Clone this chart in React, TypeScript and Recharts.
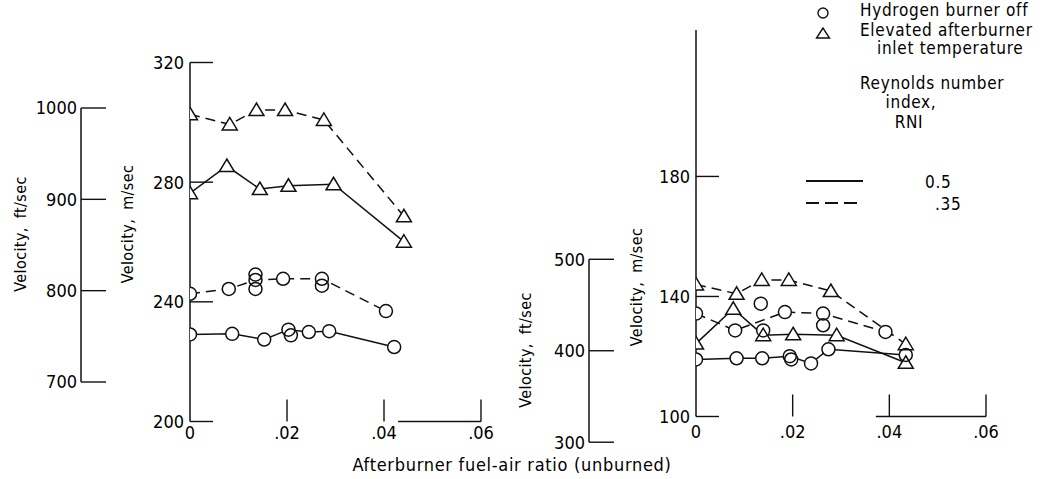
import React from 'react';
import { ComposedChart, Line, Scatter, XAxis, YAxis, ReferenceLine } from 'recharts';

const NUM_FONT = '"Liberation Sans Narrow", "DejaVu Sans Condensed", sans-serif';
const TXT_FONT = '"DejaVu Sans Condensed", "DejaVu Sans", sans-serif';

type Pt = { x: number; y: number };

// ---------- Left panel (velocity, m/sec) ----------
const leftTriDashed: Pt[] = [
  { x: 0, y: 302.7 }, { x: 0.0082, y: 299.3 }, { x: 0.0137, y: 304.1 },
  { x: 0.0196, y: 304.1 }, { x: 0.0276, y: 300.8 }, { x: 0.0441, y: 268.6 },
];
const leftTriSolid: Pt[] = [
  { x: 0, y: 276.3 }, { x: 0.0076, y: 285.4 }, { x: 0.0144, y: 277.7 },
  { x: 0.0203, y: 278.8 }, { x: 0.0296, y: 279.3 }, { x: 0.0441, y: 260.1 },
];
const leftCircDashed: Pt[] = [
  { x: 0, y: 242.7 }, { x: 0.008, y: 244.3 }, { x: 0.0135, y: 247.3 },
  { x: 0.0192, y: 247.7 }, { x: 0.0272, y: 247.7 }, { x: 0.0404, y: 236.9 },
];
const leftCircDashedExtra: Pt[] = [
  { x: 0.0135, y: 249.1 }, { x: 0.0135, y: 244.3 }, { x: 0.0272, y: 245.4 },
];
const leftCircSolid: Pt[] = [
  { x: 0, y: 229.1 }, { x: 0.0087, y: 229.3 }, { x: 0.0153, y: 227.4 },
  { x: 0.0203, y: 230.7 }, { x: 0.0245, y: 229.9 }, { x: 0.0287, y: 230.2 },
  { x: 0.0421, y: 224.9 },
];
const leftCircSolidExtra: Pt[] = [{ x: 0.0208, y: 228.8 }];

// ---------- Right panel (velocity, m/sec) ----------
const rightTriDashed: Pt[] = [
  { x: 0, y: 144.0 }, { x: 0.0084, y: 140.9 }, { x: 0.0136, y: 145.5 },
  { x: 0.0192, y: 145.5 }, { x: 0.0279, y: 141.8 }, { x: 0.0434, y: 124.1 },
];
const rightTriSolid: Pt[] = [
  { x: 0, y: 124.3 }, { x: 0.0077, y: 135.9 }, { x: 0.0139, y: 127.1 },
  { x: 0.0201, y: 127.4 }, { x: 0.0291, y: 127.1 }, { x: 0.0434, y: 117.9 },
];
const rightCircDashed: Pt[] = [
  { x: 0, y: 134.3 }, { x: 0.0081, y: 128.7 }, { x: 0.0184, y: 134.8 },
  { x: 0.0263, y: 134.3 }, { x: 0.0392, y: 128.2 },
];
const rightCircDashedExtra: Pt[] = [
  { x: 0.0134, y: 137.6 }, { x: 0.0139, y: 128.7 }, { x: 0.0263, y: 130.4 },
];
const rightCircSolid: Pt[] = [
  { x: 0, y: 119.0 }, { x: 0.0084, y: 119.4 }, { x: 0.0137, y: 119.4 },
  { x: 0.0194, y: 120.1 }, { x: 0.0238, y: 117.7 }, { x: 0.0274, y: 122.4 },
  { x: 0.0434, y: 120.5 },
];
const rightCircSolidExtra: Pt[] = [{ x: 0.0197, y: 119.0 }];

// ---------- Axes ----------
const xTicks = [0, 0.02, 0.04, 0.06];
const xTickLabels = ['0', '.02', '.04', '.06'];
const xDomain = [0, 0.06];
const leftMsTicks = [200, 240, 280, 320];
const leftMsDomain = [200, 320];
const leftFtTicks = [700, 800, 900, 1000];
const leftFtDomain = [700, 1000];
const rightMsTicks = [100, 140, 180];
const rightMsDomain = [100, 228.8];
const rightFtTicks = [300, 400, 500];
const rightFtDomain = [300, 500];
const leftAxisSegment = [0.0429, 0.06];
const rightAxisSegment = [0.0372, 0.06];

const STROKE = '#111';

const makeCircle = (outline: boolean) => (p: any) => {
  if (p.cx == null || p.cy == null) return <g key={`c${p.index}`} />;
  return (
    <circle key={`c${outline ? 'o' : 'f'}${p.index}`} cx={p.cx} cy={p.cy} r={6.5}
      fill={outline ? 'none' : '#fff'} stroke={outline ? STROKE : 'none'} strokeWidth={1.5} />
  );
};
const makeTriangle = (outline: boolean) => (p: any) => {
  if (p.cx == null || p.cy == null) return <g key={`t${p.index}`} />;
  const { cx, cy } = p;
  return (
    <polygon key={`t${outline ? 'o' : 'f'}${p.index}`}
      points={`${cx},${cy - 7} ${cx - 7.5},${cy + 5.5} ${cx + 7.5},${cy + 5.5}`}
      fill={outline ? 'none' : '#fff'} stroke={outline ? STROKE : 'none'} strokeWidth={1.5} />
  );
};
const circleFill = makeCircle(false);
const circleLine = makeCircle(true);
const triFill = makeTriangle(false);
const triLine = makeTriangle(true);

const makeYTick = (len: number, gap: number) => (p: any) => {
  const { x, y, payload } = p;
  return (
    <g key={`yt${payload.value}`}>
      <line x1={x} x2={x + len} y1={y} y2={y} stroke={STROKE} strokeWidth={1.4} />
      <text x={x - gap} y={y} dy="0.36em" textAnchor="end" fontSize={18}
        fontFamily={NUM_FONT} fill="#000">{payload.value}</text>
    </g>
  );
};

const makeXTick = (len: number, off: number) => (p: any) => {
  const { x, y, payload } = p;
  const idx = xTicks.indexOf(payload.value);
  return (
    <g key={`xt${payload.value}`}>
      {payload.value !== 0 && (
        <line x1={x} x2={x} y1={y} y2={y - len} stroke={STROKE} strokeWidth={1.4} />
      )}
      <text x={x} y={y + off} textAnchor="middle" fontSize={18}
        fontFamily={NUM_FONT} fill="#000">{xTickLabels[idx]}</text>
    </g>
  );
};

const DASH = '10 6';

function Panel(props: {
  left: number; width: number; margin: any; yDomain: number[]; yTicks: number[];
  tri: [Pt[], Pt[]]; circ: [Pt[], Pt[]]; circExtra: [Pt[], Pt[]]; seg: number[]; xOff: number;
}) {
  const { left, width, margin, yDomain, yTicks, tri, circ, circExtra, seg, xOff } = props;
  const circAll = [...circExtra[0], ...circ[0], ...circExtra[1], ...circ[1]];
  const triAll = [...tri[0], ...tri[1]];
  return (
    <div style={{ position: 'absolute', left, top: 0 }}>
      <ComposedChart width={width} height={479} margin={margin}>
        <XAxis type="number" dataKey="x" domain={xDomain} ticks={xTicks} height={30}
          axisLine={false} tickLine={false} tickSize={0} tickMargin={0}
          tick={makeXTick(22, xOff)} interval={0} allowDataOverflow />
        <YAxis type="number" dataKey="y" domain={yDomain} ticks={yTicks} width={40}
          axisLine={{ stroke: STROKE, strokeWidth: 1.5 }} tickLine={false} tickSize={0}
          tickMargin={0} tick={makeYTick(23, 6)} interval={0} allowDataOverflow />
        <ReferenceLine segment={[{ x: seg[0], y: yDomain[0] }, { x: seg[1], y: yDomain[0] }]}
          stroke={STROKE} strokeWidth={1.4} ifOverflow="visible" />
        <Line data={tri[0]} dataKey="y" stroke={STROKE} strokeWidth={1.5} dot={false}
          strokeDasharray={DASH} isAnimationActive={false} type="linear" />
        <Line data={tri[1]} dataKey="y" stroke={STROKE} strokeWidth={1.5} dot={false}
          isAnimationActive={false} type="linear" />
        <Line data={circ[0]} dataKey="y" stroke={STROKE} strokeWidth={1.5} dot={false}
          strokeDasharray={DASH} isAnimationActive={false} type="linear" />
        <Line data={circ[1]} dataKey="y" stroke={STROKE} strokeWidth={1.5} dot={false}
          isAnimationActive={false} type="linear" />
        <Scatter data={circAll} shape={circleFill} isAnimationActive={false} />
        <Scatter data={triAll} shape={triFill} isAnimationActive={false} />
        <Scatter data={circAll} shape={circleLine} isAnimationActive={false} />
        <Scatter data={triAll} shape={triLine} isAnimationActive={false} />
      </ComposedChart>
    </div>
  );
}

function FtAxis(props: { left: number; width: number; axisWidth: number; top: number; bottom: number; domain: number[]; ticks: number[] }) {
  const { left, width, axisWidth, top, bottom, domain, ticks } = props;
  return (
    <div style={{ position: 'absolute', left, top: 0 }}>
      <ComposedChart width={width} height={479} data={[]} margin={{ top, bottom, left: 0, right: 0 }}>
        <XAxis hide type="number" domain={[0, 1]} />
        <YAxis type="number" domain={domain} ticks={ticks} width={axisWidth}
          axisLine={{ stroke: STROKE, strokeWidth: 1.5 }} tickLine={false} tickSize={0}
          tickMargin={0} tick={makeYTick(25, 4)} interval={0} allowDataOverflow />
      </ComposedChart>
    </div>
  );
}

export default function App() {
  return (
    <div style={{ position: 'absolute', left: 0, top: 0, width: 1044, height: 479, background: '#fff', overflow: 'hidden' }}>
      <FtAxis left={0} width={120} axisWidth={81} top={108} bottom={97} domain={leftFtDomain} ticks={leftFtTicks} />
      <FtAxis left={500} width={120} axisWidth={89} top={259.3} bottom={36.8} domain={rightFtDomain} ticks={rightFtTicks} />
      <Panel left={0} width={520} margin={{ top: 62.5, right: 39, bottom: 27.5, left: 150 }}
        yDomain={leftMsDomain} yTicks={leftMsTicks}
        tri={[leftTriDashed, leftTriSolid]} circ={[leftCircDashed, leftCircSolid]}
        circExtra={[leftCircDashedExtra, leftCircSolidExtra]} seg={leftAxisSegment} xOff={17} />
      <Panel left={560} width={484} margin={{ top: 30, right: 58, bottom: 32.5, left: 96 }}
        yDomain={rightMsDomain} yTicks={rightMsTicks}
        tri={[rightTriDashed, rightTriSolid]} circ={[rightCircDashed, rightCircSolid]}
        circExtra={[rightCircDashedExtra, rightCircSolidExtra]} seg={rightAxisSegment} xOff={21} />
      <svg width={1044} height={479} style={{ position: 'absolute', left: 0, top: 0, pointerEvents: 'none' }}>
        <g fontFamily={TXT_FONT} fontSize={17} fill="#000">
          <text transform="translate(20,234) rotate(-90)" textAnchor="middle" dy="0.35em" fontSize={16} letterSpacing={0.4} wordSpacing={4}>Velocity, ft/sec</text>
          <text transform="translate(127,224) rotate(-90)" textAnchor="middle" dy="0.35em" fontSize={16} letterSpacing={0.4} wordSpacing={4}>Velocity, m/sec</text>
          <text transform="translate(525,350) rotate(-90)" textAnchor="middle" dy="0.35em" fontSize={16} letterSpacing={0.4} wordSpacing={4}>Velocity, ft/sec</text>
          <text transform="translate(636,287) rotate(-90)" textAnchor="middle" dy="0.35em" fontSize={16} letterSpacing={0.4} wordSpacing={4}>Velocity, m/sec</text>
          <text x={512} y={471} textAnchor="middle" fontSize={18} letterSpacing={0.7}>Afterburner fuel-air ratio (unburned)</text>
          <circle cx={823} cy={13} r={5} fill="none" stroke={STROKE} strokeWidth={1.4} />
          <polygon points="823,28 816.5,38 829.5,38" fill="none" stroke={STROKE} strokeWidth={1.4} />
          <text x={860} y={16} letterSpacing={0.7}>Hydrogen burner off</text>
          <text x={860} y={36} letterSpacing={0.7}>Elevated afterburner</text>
          <text x={877} y={54} letterSpacing={0.7}>inlet temperature</text>
          <text x={860} y={89} letterSpacing={0.7}>Reynolds number</text>
          <text x={911} y={108} textAnchor="middle" letterSpacing={0.7}>index,</text>
          <text x={909} y={128} textAnchor="middle" letterSpacing={0.7}>RNI</text>
          <line x1={806} x2={863} y1={181} y2={181} stroke={STROKE} strokeWidth={1.8} />
          <line x1={806} x2={863} y1={203} y2={203} stroke={STROKE} strokeWidth={1.8} strokeDasharray="13 6" />
          <text x={925} y={188} letterSpacing={0.7}>0.5</text>
          <text x={935} y={210} letterSpacing={0.7}>.35</text>
        </g>
      </svg>
    </div>
  );
}
